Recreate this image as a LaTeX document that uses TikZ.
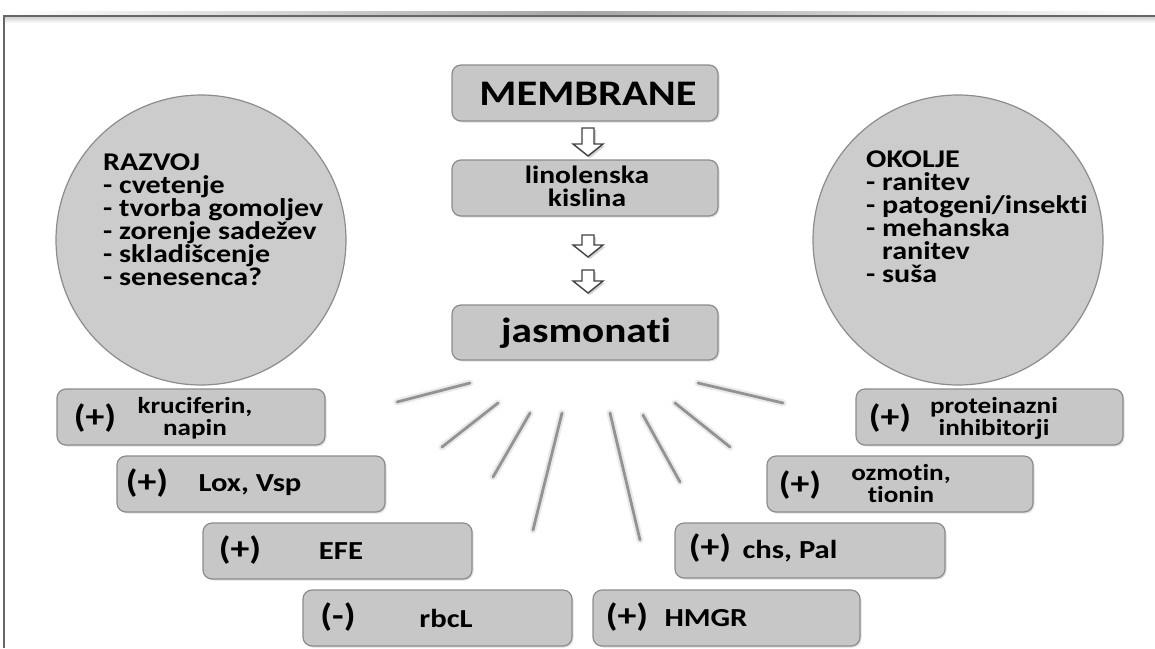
\documentclass[tikz,border=0pt]{standalone}
\usepackage{fontspec}
\setmainfont{Carlito}[FakeStretch=1.18, Ligatures={NoCommon}]
\usetikzlibrary{calc,shadows}
\tikzset{
  boxst/.style={draw=black!45, line width=1.2pt, fill=black!22, rounded corners=9pt,
    minimum width=268pt, minimum height=56pt, inner sep=0pt,
    drop shadow={opacity=0.25, shadow xshift=1.5pt, shadow yshift=-1.5pt}},
  circst/.style={circle, draw=black!45, line width=1.2pt, fill=black!20,
    minimum size=290pt, inner sep=0pt},
  txt/.style={font=\bfseries, text=black, inner sep=0pt, align=center},
  big/.style={font=\bfseries\fontsize{36}{36}\selectfont},
  mid/.style={font=\bfseries\fontsize{25}{23}\selectfont},
  lst/.style={font=\bfseries\fontsize{25.5}{23}\selectfont, align=left},
  sign/.style={font=\bfseries\fontsize{32}{32}\selectfont},
  lab/.style={font=\bfseries\fontsize{26}{26}\selectfont},
  lab2/.style={font=\bfseries\fontsize{23}{22}\selectfont},
  arrowst/.style={draw=black!75, fill=white, line width=1.4pt,
    drop shadow={opacity=0.35, shadow xshift=2pt, shadow yshift=-2pt}},
  ray/.style={line cap=round, draw=black!65, line width=2.8pt, opacity=0.6,
    preaction={draw=black!45, line width=7pt, opacity=0.18, line cap=round}}
}
\newcommand\darrow[3]{%
  \draw[arrowst] (#1-6,#2) -- (#1+6,#2) -- (#1+6,{#3-12}) -- (#1+15,{#3-12})
    -- (#1,#3) -- (#1-15,{#3-12}) -- (#1-6,{#3-12}) -- cycle;}
\begin{document}
\begin{tikzpicture}[x=1pt,y=-1pt]
\useasboundingbox (0,0) rectangle (1155,648);
% frame
\shade[left color=white, right color=white, middle color=black!35] (4,11) rectangle (1155,15.5);
\shade[top color=black!18, bottom color=white] (5,17) rectangle (1155,23);
\draw[black!60, line width=1.3pt] (4,648) -- (4,16) -- (1155,16);

% circles
\node[circst] (razvoj) at (201,240) {};
\node[circst] (okolje) at (958,240) {};
\node[txt,lst,anchor=north west] (razvojtxt) at (103,154) {RAZVOJ\\- cvetenje\\- tvorba gomoljev\\- zorenje sadežev\\- skladišcenje\\- senesenca?};
\node[txt,lst,anchor=north west] (okoljetxt) at (866,151) {OKOLJE\\- ranitev\\- patogeni/insekti\\- mehanska\\\hphantom{- }ranitev\\- suša};

% central column
\node[boxst, minimum width=266pt] (membox) at (585,93) {};
\node[boxst, minimum width=266pt] (linbox) at (585,188) {};
\node[boxst, minimum width=266pt, minimum height=55pt] (jasbox) at (585,332.5) {};
\node[txt,big] (membrane) at (588,94) {MEMBRANE};
\node[txt,mid] (linolenska) at (587,186) {linolenska\\kislina};
\node[txt,font=\bfseries\fontsize{35}{35}\selectfont] (jasmonati) at (586,333) {jasmonati};
\darrow{588}{128}{156}
\darrow{588}{235}{257}
\darrow{588}{270}{293}

% rays
\draw[ray] (397,402) -- (470,383);
\draw[ray] (442,447) -- (498,403);
\draw[ray] (493,477) -- (530,413);
\draw[ray] (533,530) -- (562,413);
\draw[ray] (610,413) -- (640,540);
\draw[ray] (643,415) -- (680,482);
\draw[ray] (675,403) -- (730,447);
\draw[ray] (698,383) -- (783,403);

% effect boxes
\node[boxst] (b1) at (191,417) {};
\node[boxst] (b2) at (251,484) {};
\node[boxst, minimum width=269pt] (b3) at (337.5,551) {};
\node[boxst, minimum width=269pt] (b4) at (437.5,618) {};
\node[boxst, minimum width=267pt] (b5) at (726.5,618) {};
\node[boxst, minimum width=270pt, minimum height=55pt] (b6) at (810,550.5) {};
\node[boxst, minimum width=266pt] (b7) at (900,484) {};
\node[boxst, minimum width=267pt] (b8) at (989.5,417) {};

\node[txt,sign] (s1) at (95,418) {(+)};
\node[txt,lab2] (l1) at (195,418) {kruciferin,\\napin};
\node[txt,sign] (s2) at (147,483) {(+)};
\node[txt,lab] (l2) at (250,485) {Lox, Vsp};
\node[txt,sign] (s3) at (240,550) {(+)};
\node[txt,lab] (l3) at (341,551) {EFE};
\node[txt,sign] (s4) at (338,617) {(-)};
\node[txt,lab] (l4) at (446,618) {rbcL};
\node[txt,sign] (s5) at (627,617) {(+)};
\node[txt,lab] (l5) at (706,618) {HMGR};
\node[txt,sign] (s6) at (710,548) {(+)};
\node[txt,lab] (l6) at (790,551) {chs, Pal};
\node[txt,sign] (s7) at (800,485) {(+)};
\node[txt,lab2] (l7) at (901,484) {ozmotin,\\tionin};
\node[txt,sign] (s8) at (890,418) {(+)};
\node[txt,lab2] (l8) at (994,418) {proteinazni\\inhibitorji};
\end{tikzpicture}
\end{document}
